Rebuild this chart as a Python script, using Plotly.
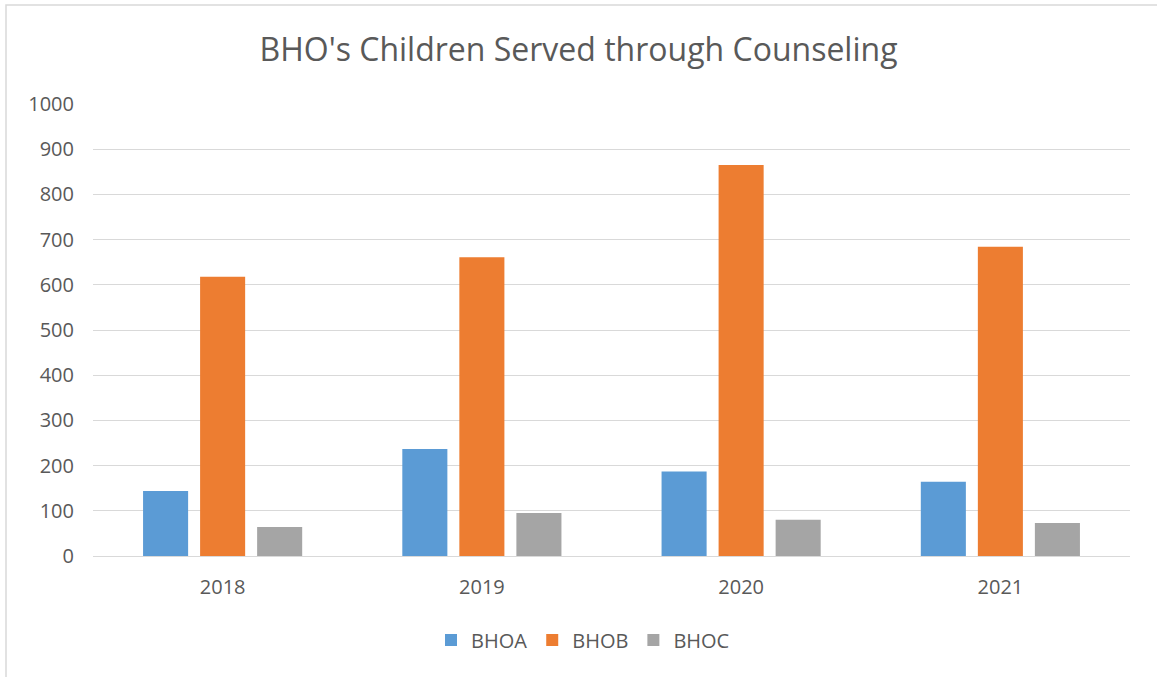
import plotly.graph_objects as go

years = ["2018", "2019", "2020", "2021"]
bhoa = [144, 237, 187, 164]
bhob = [618, 661, 865, 684]
bhoc = [64, 95, 80, 73]

series_names = ["BHOA", "BHOB", "BHOC"]
colors = ["#5B9BD5", "#ED7D31", "#A5A5A5"]

font_family = "Open Sans, Liberation Sans, sans-serif"
text_color = "#595959"

fig = go.Figure()
for name, vals, col in zip(series_names, [bhoa, bhob, bhoc], colors):
    fig.add_trace(go.Bar(x=years, y=vals, name=name, marker=dict(color=col, line=dict(width=0))))

W, H = 1157, 677
l, r, t, b = 93, 27, 104, 121
pw, ph = W - l - r, H - t - b

def px_x(x):
    return (x - l) / pw

def px_y(y):
    return (H - b - y) / ph

fig.update_layout(
    width=W, height=H,
    margin=dict(l=l, r=r, t=t, b=b),
    paper_bgcolor="white", plot_bgcolor="white",
    barmode="group", bargap=0.34, bargroupgap=0.21,
    title=dict(text="BHO's Children Served through Counseling", x=0.5, xanchor="center",
               y=1 - 50 / H, yanchor="middle",
               font=dict(family=font_family, size=32, color=text_color)),
    font=dict(family=font_family, color=text_color),
    xaxis=dict(showgrid=False, showline=False, ticks="", ticklabelstandoff=17,
               tickfont=dict(size=20, color=text_color)),
    yaxis=dict(range=[0, 1000], dtick=100, showgrid=True, gridcolor="#d9d9d9", gridwidth=1,
               zeroline=True, zerolinecolor="#d9d9d9", zerolinewidth=1,
               showline=False, ticks="", ticklabelstandoff=18,
               tickfont=dict(size=20, color=text_color)),
    legend=dict(orientation="h", x=px_x(583), xanchor="center", y=px_y(640), yanchor="middle",
                font=dict(size=20, color=text_color), itemwidth=30),
    shapes=[dict(type="rect", xref="paper", yref="paper",
                 x0=px_x(6), x1=px_x(1165), y0=px_y(690), y1=px_y(5),
                 line=dict(color="#d9d9d9", width=1.5), fillcolor="rgba(0,0,0,0)", layer="below")],
)

fig.write_html("out.html")
